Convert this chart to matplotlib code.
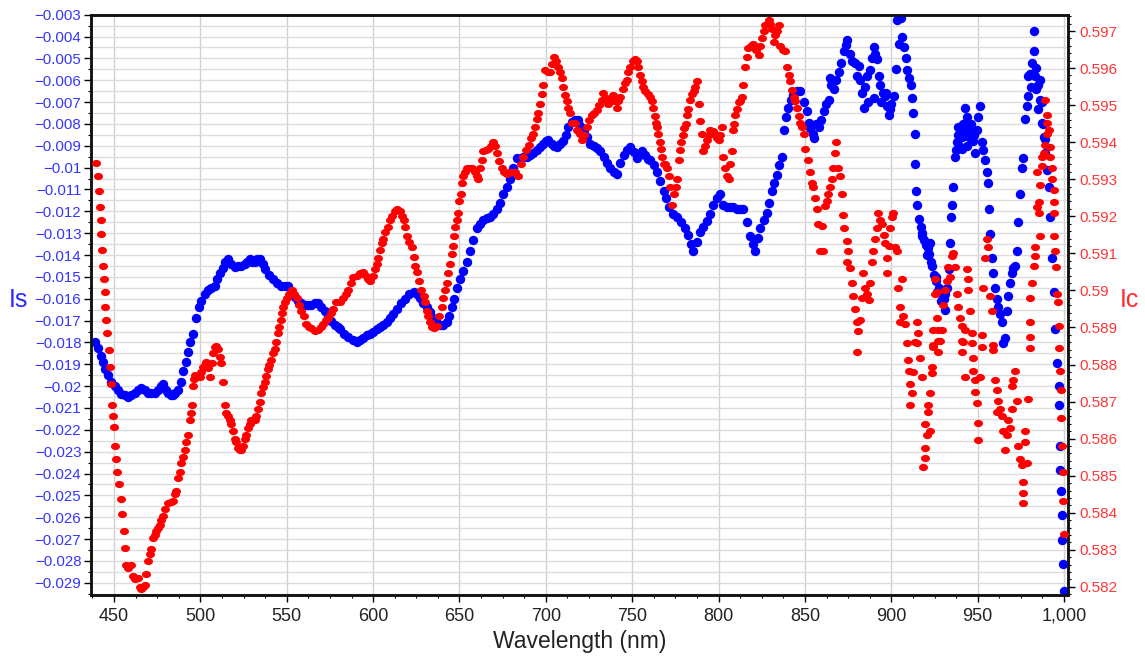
import matplotlib
matplotlib.use('Agg')
import matplotlib.pyplot as plt
from matplotlib.ticker import MultipleLocator, FixedLocator, FuncFormatter
from matplotlib.path import Path
from matplotlib.transforms import Affine2D
import numpy as np

plt.rcParams['font.family'] = ['Liberation Sans', 'DejaVu Sans']

# ---------------- data (wavelength nm, value) ----------------
blue_is_points = [
    (438.8, -0.0180), (440.7, -0.01825), (442.2, -0.0186), (443.6, -0.0189), (445.0, -0.0192),
    (446.5, -0.01948), (448.4, -0.0198), (450.4, -0.0200), (452.3, -0.0202), (454.2, -0.02034),
    (456.1, -0.0204), (458.0, -0.0205), (460.0, -0.0204), (462.0, -0.0203), (463.9, -0.0202),
    (465.8, -0.0201), (467.7, -0.0202), (469.7, -0.0203), (471.6, -0.0203), (473.5, -0.0203),
    (475.5, -0.0202), (477.0, -0.0200), (478.4, -0.0199), (480.0, -0.0202), (481.3, -0.02033),
    (482.8, -0.0204), (484.2, -0.0204), (485.6, -0.0203), (487.0, -0.0202), (488.5, -0.0198),
    (490.0, -0.0193), (491.4, -0.0189), (492.8, -0.01844), (494.2, -0.0180), (495.7, -0.0176),
    (497.6, -0.0169), (499.0, -0.0164), (500.5, -0.0161), (502.5, -0.0158), (504.4, -0.0156),
    (506.4, -0.0155), (508.3, -0.0154), (509.8, -0.0151), (511.2, -0.0148), (513.0, -0.0146),
    (514.5, -0.0143), (516.0, -0.0142), (518.0, -0.0144), (519.9, -0.01457), (521.8, -0.0145),
    (523.7, -0.01448), (525.6, -0.0144), (527.0, -0.0143), (528.6, -0.0142), (530.0, -0.0143),
    (531.5, -0.0143), (533.0, -0.0142), (534.4, -0.0142), (536.0, -0.0144), (537.3, -0.01464),
    (539.6, -0.0149), (542.0, -0.0151), (544.5, -0.0153), (546.9, -0.0154), (548.8, -0.0154),
    (550.7, -0.0154), (552.6, -0.0157), (554.6, -0.0159), (556.5, -0.0161), (558.5, -0.0162),
    (560.4, -0.0163), (562.3, -0.0163), (564.2, -0.0163), (566.2, -0.0162), (568.1, -0.0162),
    (570.0, -0.0164), (572.0, -0.01655), (574.0, -0.0168), (575.9, -0.0170), (577.8, -0.0172),
    (579.4, -0.0173), (580.9, -0.0174), (583.3, -0.0176), (585.7, -0.01775), (588.1, -0.0179),
    (590.5, -0.0180), (592.4, -0.0179), (594.4, -0.0178), (596.3, -0.01766), (598.2, -0.0176),
    (600.1, -0.0175), (602.0, -0.0174), (604.0, -0.0173), (606.0, -0.0172), (607.9, -0.01707),
    (609.8, -0.0169), (611.8, -0.0167), (613.7, -0.01647), (616.1, -0.0162), (618.5, -0.0160),
    (621.0, -0.0158), (623.4, -0.01569), (625.3, -0.0158), (627.2, -0.01595), (629.1, -0.0162),
    (631.0, -0.01638), (633.0, -0.0166), (634.9, -0.0169), (636.8, -0.0171), (638.8, -0.0172),
    (640.7, -0.0172), (642.6, -0.01707), (644.0, -0.0168), (645.5, -0.0164), (647.0, -0.0160),
    (648.4, -0.0155), (650.3, -0.0151), (652.3, -0.01473), (654.2, -0.0143), (656.1, -0.0138),
    (658.0, -0.0133), (660.0, -0.01276), (661.9, -0.0126), (663.8, -0.0124), (665.7, -0.0123),
    (667.7, -0.01225), (669.6, -0.0121), (671.6, -0.0119), (673.5, -0.0116), (675.4, -0.0112),
    (677.4, -0.0109), (679.3, -0.01052), (681.2, -0.0100), (683.1, -0.00958), (685.0, -0.0096),
    (686.9, -0.0095), (688.9, -0.0095), (690.8, -0.0094), (692.8, -0.00933), (694.7, -0.0092),
    (696.6, -0.00905), (698.6, -0.0089), (700.0, -0.0088), (701.5, -0.00872), (703.5, -0.0089),
    (705.0, -0.0090), (706.4, -0.00905), (708.3, -0.0089), (710.2, -0.0088), (711.6, -0.0085),
    (713.1, -0.00812), (715.0, -0.0079), (717.0, -0.0078), (718.5, -0.0078), (720.0, -0.0081),
    (721.8, -0.00828), (723.7, -0.0086), (725.7, -0.0089), (727.6, -0.0090), (729.5, -0.0091),
    (731.5, -0.00924), (733.4, -0.0095), (735.4, -0.0098), (737.3, -0.0100), (739.2, -0.0102),
    (741.2, -0.01027), (743.0, -0.0098), (745.0, -0.0094), (747.0, -0.0092), (748.9, -0.00905),
    (750.8, -0.0093), (752.7, -0.00958), (754.2, -0.0094), (755.6, -0.00924), (757.5, -0.0094),
    (759.0, -0.0096), (760.5, -0.00965), (762.4, -0.0099), (764.4, -0.01019), (766.3, -0.0106),
    (768.2, -0.01105), (769.7, -0.0114), (771.1, -0.0118), (773.5, -0.0121), (776.0, -0.01225),
    (778.4, -0.0125), (780.8, -0.01276), (782.5, -0.0131), (784.0, -0.0135), (785.4, -0.0138),
    (787.3, -0.0134), (789.3, -0.01294), (791.2, -0.0127), (793.2, -0.01242), (795.1, -0.0121),
    (797.0, -0.01173), (799.0, -0.0114), (800.9, -0.0112), (802.8, -0.0117), (804.8, -0.0118),
    (806.7, -0.0118), (808.6, -0.0118), (810.5, -0.0119), (812.5, -0.0119), (814.4, -0.0119),
    (816.3, -0.0125), (818.3, -0.01311), (819.7, -0.0135), (821.2, -0.0138), (822.6, -0.0132),
    (824.1, -0.01276), (826.0, -0.0124), (828.0, -0.01207), (829.4, -0.0116), (830.8, -0.01105),
    (832.2, -0.0107), (833.7, -0.01035), (835.1, -0.0099), (836.6, -0.0095), (837.6, -0.00828),
    (839.0, -0.0077), (840.4, -0.00725), (841.8, -0.0069), (843.3, -0.00666), (845.2, -0.0065),
    (847.2, -0.00648), (849.2, -0.0070), (851.1, -0.00743), (852.2, -0.00795), (853.0, -0.0082),
    (854.9, -0.00846), (855.1, -0.00863), (856.4, -0.0080), (858.0, -0.00812), (859.5, -0.0078),
    (860.9, -0.00743), (862.4, -0.0071), (863.8, -0.0069), (864.5, -0.00588), (865.2, -0.0062),
    (866.7, -0.0064), (868.0, -0.0060), (869.6, -0.00562), (871.0, -0.0052), (872.5, -0.00468),
    (873.5, -0.0044), (874.4, -0.00416), (875.8, -0.0048), (877.3, -0.00511), (879.2, -0.0052),
    (880.0, -0.0058), (881.2, -0.00537), (882.0, -0.0060), (883.1, -0.00657), (884.0, -0.00726),
    (885.0, -0.0063), (886.0, -0.0058), (886.3, -0.0070), (887.9, -0.00553), (888.8, -0.0050),
    (889.8, -0.0045), (890.0, -0.0068), (890.8, -0.0048), (891.8, -0.00502), (892.7, -0.0058),
    (893.7, -0.00622), (894.0, -0.0070), (895.2, -0.0066), (896.6, -0.00674), (897.0, -0.0066),
    (897.6, -0.0072), (898.6, -0.0076), (899.0, -0.0073), (900.0, -0.0071), (901.5, -0.00674),
    (902.5, -0.0055), (903.4, -0.00322), (904.4, -0.00433), (905.4, -0.00313), (906.3, -0.0040),
    (907.3, -0.0045), (908.3, -0.0050), (909.2, -0.00553), (910.2, -0.0059), (911.2, -0.00622),
    (912.1, -0.00683), (912.5, -0.00752), (913.7, -0.00846), (913.7, -0.00983), (914.5, -0.01105),
    (915.1, -0.01173), (916.0, -0.01233), (917.0, -0.0127), (917.5, -0.0130), (918.0, -0.01311),
    (919.0, -0.0133), (920.0, -0.01354), (920.5, -0.0140), (921.0, -0.0137), (921.9, -0.01397),
    (922.5, -0.01345), (923.0, -0.0143), (923.8, -0.01448), (924.8, -0.01491), (925.8, -0.0152),
    (926.0, -0.0150), (926.7, -0.01569), (927.5, -0.0155), (928.3, -0.01569), (929.0, -0.0161),
    (929.3, -0.0158), (930.2, -0.01603), (931.0, -0.0165), (931.2, -0.0158), (932.1, -0.01551),
    (933.1, -0.01466), (934.0, -0.01345), (934.4, -0.01225), (935.0, -0.01173), (935.9, -0.01087),
    (936.9, -0.0095), (937.4, -0.0092), (937.9, -0.00881), (938.4, -0.0085), (938.8, -0.00812),
    (939.0, -0.0090), (939.8, -0.0085), (940.8, -0.00915), (941.0, -0.0086), (941.7, -0.0080),
    (942.7, -0.00726), (943.0, -0.0083), (943.6, -0.0077), (944.0, -0.0090), (944.6, -0.00795),
    (945.0, -0.0086), (945.6, -0.0082), (946.0, -0.0080), (946.6, -0.00846), (947.5, -0.0088),
    (948.0, -0.0085), (948.5, -0.00932), (949.4, -0.00828), (950.4, -0.0077), (951.4, -0.00717),
    (952.4, -0.00881), (953.3, -0.0092), (954.3, -0.00965), (955.2, -0.0102), (956.2, -0.0107),
    (956.8, -0.0119), (957.2, -0.01302), (958.2, -0.01413), (959.1, -0.0148), (960.1, -0.01551),
    (961.0, -0.0160), (962.0, -0.01638), (963.0, -0.0167), (964.0, -0.01706), (964.9, -0.01801),
    (965.8, -0.0178), (966.8, -0.01655), (967.8, -0.01586), (968.7, -0.0153), (969.7, -0.01482),
    (970.7, -0.0146), (971.7, -0.01448), (972.6, -0.0138), (973.6, -0.01251), (974.6, -0.0112),
    (975.5, -0.0100), (976.5, -0.00958), (977.5, -0.00777), (978.4, -0.0072), (979.0, -0.0058),
    (979.4, -0.00674), (980.4, -0.00571), (981.0, -0.0063), (981.3, -0.0052), (982.3, -0.00468),
    (982.7, -0.00373), (983.0, -0.0058), (983.9, -0.00545), (984.0, -0.0064), (985.0, -0.0062),
    (985.0, -0.0073), (986.0, -0.0060), (986.2, -0.0069), (987.0, -0.0070), (987.2, -0.00795),
    (988.0, -0.0080), (988.1, -0.0086), (989.0, -0.0087), (989.1, -0.00932), (990.0, -0.0101),
    (991.0, -0.01087), (992.0, -0.01225), (993.0, -0.01413), (993.9, -0.01569), (994.9, -0.0174),
    (995.9, -0.01896), (996.8, -0.01999), (996.8, -0.02085), (997.4, -0.02274), (997.8, -0.02386),
    (998.4, -0.0248), (998.8, -0.02592), (998.8, -0.02704), (999.1, -0.02816), (999.7, -0.02937),
]

red_ic_points = [
    (439.8, 0.59343), (440.7, 0.5931), (441.2, 0.59269), (441.7, 0.59224), (442.3, 0.59189),
    (442.7, 0.59153), (443.0, 0.59108), (443.6, 0.59067), (444.2, 0.59031), (444.6, 0.58996),
    (444.9, 0.58955), (445.5, 0.5892), (446.1, 0.58885), (446.9, 0.58839), (447.5, 0.58793),
    (448.1, 0.58747), (448.8, 0.58691), (449.4, 0.58661), (450.0, 0.58631), (450.8, 0.5858),
    (451.3, 0.58545), (451.9, 0.5851), (452.7, 0.58478), (453.9, 0.58438), (454.6, 0.58397),
    (455.8, 0.58351), (456.6, 0.58306), (457.1, 0.5826), (458.2, 0.5825), (459.7, 0.5826),
    (461.0, 0.5823), (462.4, 0.5822), (463.9, 0.58224), (465.0, 0.5820), (465.8, 0.58194),
    (466.8, 0.5820), (467.8, 0.58205), (468.7, 0.58234), (469.7, 0.5827), (470.6, 0.5829),
    (471.6, 0.58301), (472.6, 0.58332), (473.5, 0.5834), (474.5, 0.58351), (475.5, 0.5836),
    (476.5, 0.58367), (477.4, 0.5838), (478.4, 0.58392), (479.8, 0.5841), (481.3, 0.58427),
    (482.8, 0.5843), (484.2, 0.58433), (485.1, 0.5845), (486.1, 0.58458), (487.1, 0.58494),
    (488.0, 0.5851), (489.0, 0.58534), (490.0, 0.5855), (491.0, 0.5857), (491.9, 0.5859),
    (492.8, 0.5861), (493.8, 0.5865), (494.5, 0.5867), (495.2, 0.58691), (495.7, 0.58742),
    (496.4, 0.5876), (497.1, 0.58772), (498.3, 0.5877), (499.6, 0.58767), (500.5, 0.5878),
    (501.5, 0.58793), (502.5, 0.5880), (503.4, 0.58808), (504.4, 0.5879), (505.4, 0.58767),
    (506.7, 0.58803), (507.5, 0.5883), (508.3, 0.58848), (509.2, 0.5885), (510.2, 0.58843),
    (511.1, 0.5882), (512.1, 0.58803), (513.1, 0.58753), (514.1, 0.58691), (515.0, 0.5867),
    (516.0, 0.58661), (517.0, 0.5865), (517.9, 0.5864), (518.9, 0.5862), (519.9, 0.5860),
    (520.8, 0.5859), (521.8, 0.58574), (522.8, 0.5857), (523.7, 0.5857), (524.7, 0.5858),
    (525.7, 0.5860), (526.6, 0.5861), (527.6, 0.5863), (528.5, 0.5864), (529.5, 0.5865),
    (530.5, 0.5865), (531.5, 0.5865), (532.4, 0.5866), (533.4, 0.58681), (534.3, 0.5870),
    (535.3, 0.58722), (536.3, 0.5874), (537.3, 0.58753), (538.2, 0.5877), (539.2, 0.58788),
    (540.0, 0.5880), (540.8, 0.58813), (542.0, 0.5883), (543.1, 0.58843), (544.0, 0.5886),
    (545.0, 0.58884), (545.8, 0.5890), (546.6, 0.5892), (547.2, 0.5894), (547.9, 0.58955),
    (548.9, 0.5897), (549.9, 0.5898), (551.3, 0.5899), (552.8, 0.59001), (554.2, 0.5899),
    (555.7, 0.5898), (557.1, 0.5896), (558.5, 0.58945), (560.0, 0.5893), (561.4, 0.58909),
    (562.8, 0.5890), (564.3, 0.58899), (566.2, 0.5889), (568.1, 0.58894), (569.6, 0.5890),
    (571.0, 0.58909), (572.5, 0.5892), (573.9, 0.58925), (575.4, 0.5894), (576.8, 0.5895),
    (578.7, 0.5897), (580.8, 0.5897), (582.8, 0.5898), (584.3, 0.5899), (585.7, 0.59001),
    (587.2, 0.5902), (588.6, 0.59036), (590.5, 0.5904), (592.4, 0.59047), (593.9, 0.5905),
    (595.3, 0.59042), (596.8, 0.5903), (598.2, 0.59026), (599.7, 0.5904), (601.1, 0.59057),
    (602.1, 0.5907), (603.1, 0.59088), (604.0, 0.5911), (605.0, 0.59128), (605.9, 0.5914),
    (606.9, 0.59158), (608.4, 0.5917), (609.8, 0.59189), (611.2, 0.5920), (612.7, 0.59213),
    (614.1, 0.5922), (615.6, 0.59213), (616.6, 0.5920), (617.6, 0.59189), (618.5, 0.5917),
    (619.5, 0.59148), (621.0, 0.5913), (622.4, 0.59118), (623.4, 0.5909), (624.4, 0.59067),
    (625.3, 0.5905), (626.3, 0.59026), (627.7, 0.5900), (629.2, 0.58986), (630.1, 0.5897),
    (631.1, 0.58945), (632.0, 0.5893), (633.0, 0.58915), (634.0, 0.5890), (635.0, 0.58899),
    (636.0, 0.5890), (636.9, 0.58904), (638.4, 0.5893), (639.8, 0.58955), (640.7, 0.5898),
    (641.7, 0.59001), (642.6, 0.5902), (643.6, 0.59047), (644.5, 0.5907), (645.5, 0.59097),
    (646.2, 0.5912), (646.9, 0.59148), (647.6, 0.5917), (648.4, 0.59189), (649.1, 0.5921),
    (649.9, 0.5924), (650.6, 0.5926), (651.3, 0.5929), (652.2, 0.5931), (653.2, 0.5932),
    (654.6, 0.5933), (656.1, 0.5933), (657.5, 0.5933), (659.0, 0.5932), (660.0, 0.5931),
    (661.0, 0.5930), (662.0, 0.5933), (662.9, 0.59351), (663.8, 0.59376), (665.2, 0.5938),
    (666.7, 0.59382), (668.0, 0.5939), (669.3, 0.59401), (670.5, 0.5939), (671.6, 0.59371),
    (673.0, 0.5935), (674.5, 0.5933), (676.0, 0.5932), (677.4, 0.59315), (678.8, 0.5932),
    (680.3, 0.5932), (682.2, 0.5932), (684.1, 0.5931), (685.5, 0.5934), (687.0, 0.59361),
    (688.5, 0.5938), (690.0, 0.59392), (691.4, 0.5941), (692.8, 0.59422), (693.8, 0.5944),
    (694.8, 0.59462), (695.7, 0.5948), (696.6, 0.59503), (697.6, 0.5953), (698.6, 0.59554),
    (699.6, 0.59595), (701.0, 0.5959), (702.5, 0.59589), (703.7, 0.5961), (704.8, 0.5963),
    (706.0, 0.5962), (707.3, 0.59604), (708.2, 0.5959), (709.2, 0.59574), (710.2, 0.5955),
    (711.1, 0.59528), (712.1, 0.5951), (713.1, 0.59493), (714.0, 0.5948), (715.0, 0.59452),
    (716.9, 0.59452), (717.9, 0.59433), (718.8, 0.5943), (719.8, 0.59422), (720.7, 0.59407),
    (722.2, 0.5942), (723.6, 0.59442), (725.0, 0.5946), (726.5, 0.59472), (728.0, 0.5948),
    (729.5, 0.59488), (731.0, 0.5950), (732.3, 0.59513), (733.3, 0.59533), (734.7, 0.5952),
    (736.2, 0.59503), (737.6, 0.5951), (739.1, 0.59528), (740.1, 0.5951), (741.1, 0.59493),
    (742.0, 0.5951), (743.0, 0.59523), (744.9, 0.59543), (745.9, 0.5956), (746.9, 0.59569),
    (747.8, 0.5959), (748.8, 0.59604), (750.2, 0.5962), (751.7, 0.59625), (752.6, 0.5962),
    (753.6, 0.59604), (754.6, 0.5958), (755.6, 0.59564), (756.5, 0.5955), (757.5, 0.59539),
    (759.0, 0.5953), (760.4, 0.59523), (761.3, 0.5951), (762.3, 0.59493), (763.1, 0.5947),
    (763.9, 0.59452), (764.5, 0.5944), (765.2, 0.59422), (765.9, 0.5940), (766.6, 0.59382),
    (767.4, 0.5936), (768.2, 0.59341), (769.1, 0.5934), (770.1, 0.5933), (771.0, 0.5931),
    (772.0, 0.5928), (773.0, 0.5923), (774.3, 0.5926), (775.1, 0.5928), (775.9, 0.5930),
    (776.8, 0.59351), (777.5, 0.5938), (778.2, 0.59401), (779.2, 0.5942), (780.1, 0.59437),
    (780.9, 0.5945), (781.7, 0.59472), (782.5, 0.5949), (783.2, 0.59513), (784.4, 0.5953),
    (785.5, 0.59539), (786.5, 0.5955), (787.5, 0.59564), (788.4, 0.59503), (789.4, 0.59457),
    (790.4, 0.59422), (791.0, 0.59376), (792.1, 0.5939), (793.2, 0.59407), (794.2, 0.5942),
    (795.2, 0.59432), (796.6, 0.5943), (798.1, 0.59422), (799.0, 0.5941), (800.0, 0.59407),
    (801.0, 0.5942), (801.9, 0.59442), (802.8, 0.59361), (803.8, 0.5933), (804.8, 0.5931),
    (805.8, 0.5930), (806.8, 0.59341), (807.7, 0.59376), (808.3, 0.59432), (809.0, 0.5945),
    (809.6, 0.59472), (810.6, 0.5949), (811.6, 0.59508), (812.5, 0.5951), (813.5, 0.59523),
    (814.4, 0.59554), (815.4, 0.59604), (816.3, 0.5963), (817.3, 0.59655), (818.7, 0.5966),
    (820.2, 0.59665), (821.6, 0.5965), (823.1, 0.59635), (824.1, 0.5966), (825.1, 0.59681),
    (826.0, 0.5970), (827.0, 0.59716), (828.0, 0.5972), (828.9, 0.59731), (829.9, 0.5972),
    (830.9, 0.59706), (831.8, 0.5967), (832.7, 0.5969), (833.7, 0.5970), (834.7, 0.59716),
    (835.7, 0.5966), (837.1, 0.5965), (838.6, 0.59645), (839.6, 0.59604), (840.5, 0.5958),
    (841.5, 0.59564), (842.5, 0.5954), (843.4, 0.59523), (844.4, 0.5951), (845.4, 0.59493),
    (846.3, 0.5947), (847.3, 0.59452), (848.3, 0.5944), (849.2, 0.59422), (850.2, 0.59382),
    (851.5, 0.59351), (852.7, 0.5932), (854.0, 0.5929), (854.9, 0.5928), (855.9, 0.59249),
    (856.9, 0.5922), (857.8, 0.59178), (858.5, 0.59107), (859.7, 0.59174), (860.7, 0.59107),
    (861.7, 0.59229), (862.6, 0.5924), (863.5, 0.5926), (864.5, 0.5928), (865.5, 0.5930),
    (866.4, 0.5933), (867.4, 0.59371), (868.0, 0.59401), (869.3, 0.5933), (870.3, 0.5931),
    (871.2, 0.5926), (872.2, 0.59203), (872.7, 0.59168), (874.1, 0.59133), (874.1, 0.59077),
    (875.1, 0.59107), (876.0, 0.5906), (877.0, 0.5902), (877.9, 0.58986), (878.9, 0.5895),
    (879.9, 0.58915), (879.9, 0.58834), (880.8, 0.5889), (882.0, 0.5892), (883.0, 0.5898),
    (883.8, 0.59047), (884.8, 0.59006), (885.8, 0.5899), (886.8, 0.58975), (887.7, 0.5902),
    (888.7, 0.59077), (889.6, 0.59107), (890.6, 0.59138), (891.6, 0.59168), (892.5, 0.59209),
    (893.5, 0.5919), (894.5, 0.59178), (895.5, 0.5915), (896.4, 0.59128), (897.4, 0.59087),
    (897.7, 0.59047), (898.5, 0.5912), (899.3, 0.59168), (900.2, 0.59198), (901.2, 0.59209),
    (902.1, 0.59118), (903.1, 0.59107), (904.1, 0.59006), (905.0, 0.58955), (905.0, 0.58915),
    (906.0, 0.59031), (907.0, 0.5893), (907.9, 0.5891), (908.9, 0.58859), (909.8, 0.58813),
    (910.4, 0.58782), (910.8, 0.58747), (910.8, 0.58691), (911.8, 0.58722), (912.8, 0.5878),
    (913.7, 0.5886), (914.6, 0.58915), (914.6, 0.58859), (915.6, 0.58884), (916.5, 0.58818),
    (917.5, 0.58767), (918.4, 0.58524), (919.4, 0.5864), (919.4, 0.58574), (919.4, 0.58549),
    (920.4, 0.5861), (921.3, 0.58691), (921.3, 0.58672), (922.3, 0.58722), (922.3, 0.5862),
    (923.3, 0.58777), (923.3, 0.58793), (924.2, 0.58894), (924.2, 0.58848), (924.4, 0.58854),
    (925.2, 0.58991), (925.3, 0.59031), (926.2, 0.58925), (926.3, 0.58996), (927.2, 0.58894),
    (927.2, 0.58864), (927.2, 0.58834), (928.1, 0.58864), (929.1, 0.58894), (930.0, 0.5896),
    (931.0, 0.59001), (932.0, 0.59026), (932.9, 0.59062), (933.9, 0.59036), (934.9, 0.59093),
    (935.8, 0.59102), (936.8, 0.59062), (937.8, 0.5899), (938.7, 0.58955), (939.7, 0.58925),
    (940.7, 0.58904), (940.7, 0.58864), (940.7, 0.58834), (941.6, 0.5886), (942.6, 0.58894),
    (942.6, 0.58767), (943.6, 0.59057), (944.5, 0.59031), (944.5, 0.59001), (945.5, 0.58945),
    (946.5, 0.58884), (946.5, 0.58859), (947.4, 0.58818), (947.4, 0.58782), (948.4, 0.58757),
    (948.4, 0.58727), (949.4, 0.58697), (950.3, 0.58641), (950.3, 0.58595), (951.3, 0.58767),
    (952.3, 0.58879), (952.3, 0.58848), (953.2, 0.59006), (954.2, 0.59087), (955.2, 0.59138),
    (956.1, 0.59118), (957.1, 0.58986), (958.1, 0.58945), (959.0, 0.58854), (959.0, 0.5884),
    (960.0, 0.58757), (961.0, 0.58731), (961.0, 0.58672), (962.0, 0.58701), (962.9, 0.58681),
    (963.9, 0.58661), (964.9, 0.5862), (965.9, 0.5857), (966.8, 0.5861), (967.8, 0.5865),
    (968.8, 0.5863), (969.7, 0.58681), (969.7, 0.58742), (970.7, 0.58757), (971.7, 0.58782),
    (972.6, 0.58701), (973.6, 0.5858), (974.6, 0.58545), (975.5, 0.58529), (976.2, 0.58427),
    (976.5, 0.58483), (976.5, 0.58453), (977.5, 0.5862), (977.5, 0.5859), (978.4, 0.58534),
    (979.4, 0.58707), (980.4, 0.58844), (980.4, 0.58874), (980.4, 0.58915), (980.4, 0.5898),
    (981.4, 0.5902), (982.3, 0.59067), (983.3, 0.59093), (983.3, 0.59118), (984.3, 0.59224),
    (984.3, 0.5932), (985.2, 0.59209), (985.2, 0.59239), (986.2, 0.59148), (986.2, 0.59285),
    (987.2, 0.59336), (987.2, 0.59361), (988.1, 0.59371), (989.1, 0.59392), (989.1, 0.59513),
    (990.1, 0.59422), (990.1, 0.59452), (990.1, 0.59472), (991.1, 0.59432), (992.0, 0.59386),
    (992.0, 0.59361), (993.0, 0.5933), (993.0, 0.5930), (994.0, 0.5927), (994.0, 0.59239),
    (994.4, 0.59209), (994.4, 0.59148), (994.9, 0.59107), (995.5, 0.59062), (995.9, 0.5899),
    (996.5, 0.5897), (996.8, 0.58904), (996.8, 0.58844), (997.8, 0.58782), (998.2, 0.58731),
    (998.2, 0.58655), (998.8, 0.5858), (999.1, 0.58509), (999.4, 0.58432), (999.7, 0.58342),
]

x_ticks = [450, 500, 550, 600, 650, 700, 750, 800, 850, 900, 950, 1000]
is_ticks = [round(-0.029 + 0.001 * i, 3) for i in range(27)]
ic_ticks = [round(0.582 + 0.001 * i, 3) for i in range(16)]

blue_wl = np.array([p[0] for p in blue_is_points])
blue_is = np.array([p[1] for p in blue_is_points])
red_wl = np.array([p[0] for p in red_ic_points])
red_ic = np.array([p[1] for p in red_ic_points])

# ---------------- figure ----------------
fig = plt.figure(figsize=(11.45, 6.62), dpi=100)
ax = fig.add_axes([0.0795, 0.1012, 0.8533, 0.8766])
ax2 = ax.twinx()

ax.set_xlim(436.7, 1002.3)
ax.set_ylim(-0.02956, -0.003)
ax2.set_ylim(0.58178, 0.59744)

def fmt_num(v, pos=None):
    s = f"{v:.3f}".rstrip('0').rstrip('.')
    return s.replace('-', '\u2212')

ax.xaxis.set_major_locator(FixedLocator(x_ticks))
ax.xaxis.set_major_formatter(FuncFormatter(lambda v, p: f"{int(round(v)):,}"))
ax.xaxis.set_minor_locator(MultipleLocator(12.5))
ax.yaxis.set_major_locator(FixedLocator(is_ticks))
ax.yaxis.set_major_formatter(FuncFormatter(fmt_num))
ax.yaxis.set_minor_locator(MultipleLocator(0.0005))
ax2.yaxis.set_major_locator(FixedLocator(ic_ticks))
ax2.yaxis.set_major_formatter(FuncFormatter(fmt_num))
ax2.yaxis.set_minor_locator(MultipleLocator(0.0002))

grid_col = '#dcdcdc'
ax.grid(True, which='major', axis='x', color='#d0d0d0', lw=1.0)
ax.grid(True, which='both', axis='y', color=grid_col, lw=1.0)
ax.set_axisbelow(True)

ax.tick_params(axis='x', which='major', direction='out', length=5, width=1,
               labelsize=13, labelcolor='#222222', pad=4)
ax.tick_params(axis='x', which='minor', direction='out', length=2.5, width=0.8)
ax.tick_params(axis='y', which='major', direction='out', length=5, width=1,
               labelsize=10.8, labelcolor='#3535ff', pad=2)
ax.tick_params(axis='y', which='minor', direction='out', length=2.5, width=0.8)
ax2.tick_params(axis='y', which='major', direction='out', length=5, width=1,
                labelsize=11, labelcolor='#ff3535', pad=3)
ax2.tick_params(axis='y', which='minor', direction='out', length=2.5, width=0.8)

for a in (ax, ax2):
    for sp in a.spines.values():
        sp.set_color('#111111')
        sp.set_linewidth(1.8)

blue_marker = Path.unit_circle()
red_marker = Path.unit_circle().transformed(Affine2D().scale(1.0, 0.8))

ax.scatter(blue_wl, blue_is, s=46, marker=blue_marker, color='#0000ff',
           linewidths=0, zorder=3, clip_on=True)
ax2.scatter(red_wl, red_ic, s=42, marker=red_marker, color='#ff0000',
            linewidths=0, zorder=3, clip_on=True)

ax.set_xlabel('Wavelength (nm)', fontsize=16.5, color='#222222', labelpad=4)
fig.text(0.016, 0.547, 'Is', color='#2a2aff', fontsize=18, ha='center', va='center')
fig.text(0.986, 0.547, 'Ic', color='#ff2a2a', fontsize=18, ha='center', va='center')

fig.savefig('out.png', dpi=100)
